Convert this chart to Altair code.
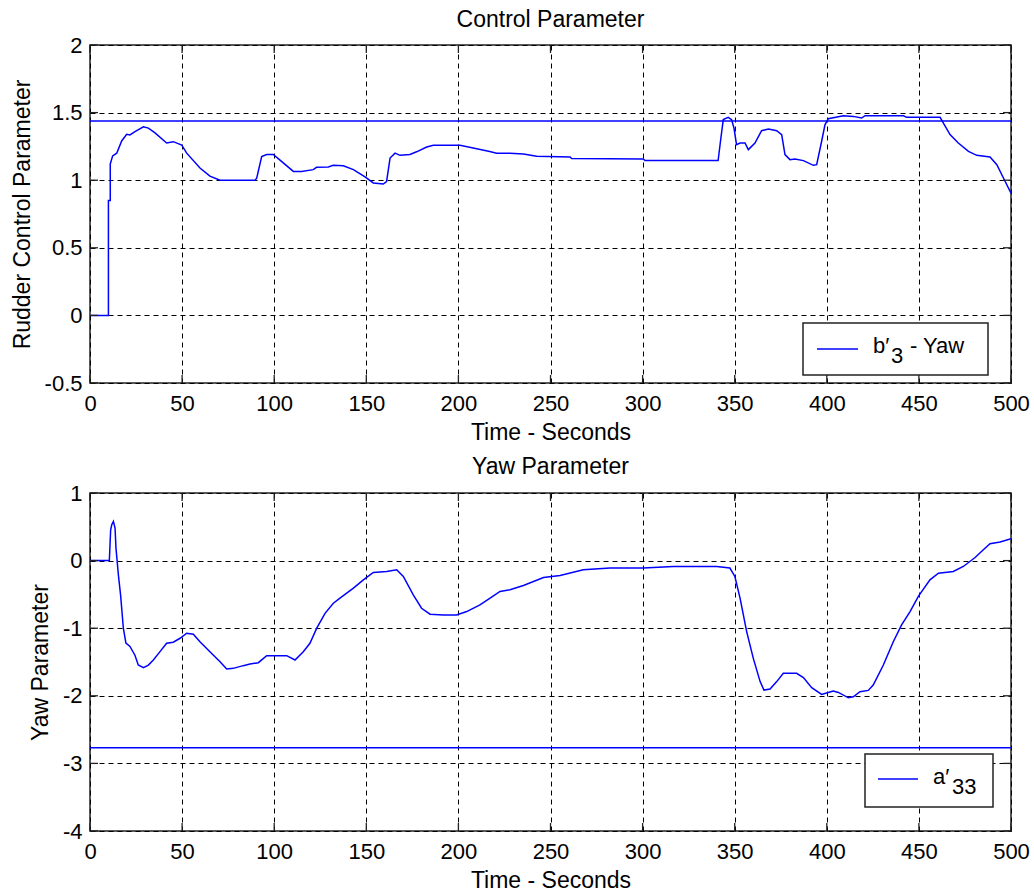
import altair as alt
import pandas as pd

# ---------------- data ----------------
t_b3 = [0, 10, 10, 11, 11, 12.3, 14.5, 17.2, 19.9, 21.7, 24.4, 29, 31.7, 35.3, 41.6, 45.2,
        49.8, 52.5, 59.7, 65.1, 70.6, 89.6, 90.5, 93.2, 95.9, 99.5, 103, 110.4, 114.9, 121.2,
        123, 129.4, 132, 137.5, 143, 149.3, 153.8, 159.2, 161, 162.9, 165.6, 168.3, 173.7,
        177.3, 182.8, 186.4, 200.9, 208, 217, 220.8, 228, 235.3, 242.5, 260.6, 261.5, 300.4,
        301.3, 341, 342.3, 343.8, 346.5, 348.3, 349.6, 351, 352.9, 355.6, 357.4, 361, 364.6,
        368.3, 372.8, 375.5, 377.3, 380, 382.7, 387.3, 392.7, 394.5, 397.2, 399, 400.8, 409,
        414.4, 418.9, 420.8, 441.6, 443.4, 461.5, 463.3, 466.9, 471.4, 476.9, 481.4, 488.6,
        492.3, 495.9, 500]
v_b3 = [0, 0, 0.85, 0.85, 1.12, 1.18, 1.20, 1.29, 1.34, 1.335, 1.36, 1.395, 1.385, 1.35, 1.275,
        1.285, 1.26, 1.20, 1.09, 1.03, 1.0, 1.0, 1.015, 1.175, 1.19, 1.19, 1.15, 1.065, 1.065,
        1.078, 1.095, 1.098, 1.11, 1.107, 1.078, 1.024, 0.98, 0.972, 0.99, 1.164, 1.20, 1.184,
        1.19, 1.21, 1.245, 1.258, 1.258, 1.238, 1.213, 1.199, 1.199, 1.194, 1.177, 1.172, 1.16,
        1.157, 1.145, 1.145, 1.29, 1.448, 1.465, 1.448, 1.386, 1.263, 1.275, 1.275, 1.226,
        1.275, 1.366, 1.379, 1.366, 1.337, 1.189, 1.152, 1.157, 1.145, 1.11, 1.115, 1.288,
        1.41, 1.455, 1.477, 1.472, 1.46, 1.477, 1.477, 1.465, 1.465, 1.423, 1.337, 1.275,
        1.213, 1.184, 1.172, 1.115, 1.016, 0.905]
b3_level = 1.438

t_a33 = [0, 10.5, 11.2, 11.8, 12.7, 13.6, 14.1, 15.4, 16.6, 18.1, 19.5, 21.7, 24.4, 26.2, 29,
         31.7, 34.4, 38, 41.6, 45.2, 48.9, 52.5, 56.1, 59.7, 65.1, 70.6, 74.2, 77.8, 83.2,
         86.9, 91.4, 95.9, 101.3, 106.8, 111.3, 115.8, 119.4, 123.1, 127.6, 132.1, 135.7, 143,
         148.4, 153.8, 161, 166.5, 170.1, 175.5, 180, 184.6, 191.8, 199, 204.5, 211.7, 217.2,
         222.6, 228, 235.3, 246.2, 255.2, 267.8, 282.3, 300.4, 316.7, 340.2, 347.4, 350.1,
         352.9, 356.5, 360.1, 363.8, 365.9, 369.2, 372.8, 376.4, 383.6, 387.3, 391.8, 397.2,
         400.8, 403.5, 406.3, 411.7, 414.4, 418, 422.5, 425.2, 430.7, 436.1, 440.6, 445.2,
         449.7, 456, 460.6, 468.7, 474.1, 480.5, 485, 488.6, 494.1, 500]
v_a33 = [0, 0, 0.45, 0.53, 0.58, 0.48, 0.185, -0.21, -0.507, -1.0, -1.22, -1.27, -1.40, -1.545,
         -1.584, -1.545, -1.47, -1.347, -1.223, -1.208, -1.149, -1.075, -1.09, -1.2, -1.347,
         -1.495, -1.604, -1.594, -1.554, -1.53, -1.51, -1.406, -1.406, -1.406, -1.47, -1.347,
         -1.223, -1.0, -0.78, -0.63, -0.556, -0.408, -0.285, -0.176, -0.161, -0.136, -0.235,
         -0.507, -0.705, -0.793, -0.803, -0.803, -0.754, -0.655, -0.556, -0.457, -0.43, -0.369,
         -0.25, -0.22, -0.136, -0.11, -0.11, -0.087, -0.087, -0.11, -0.235, -0.556, -1.05,
         -1.446, -1.79, -1.915, -1.9, -1.79, -1.668, -1.668, -1.73, -1.88, -1.98, -1.95, -1.93,
         -1.95, -2.03, -2.014, -1.94, -1.92, -1.84, -1.545, -1.2, -0.95, -0.754, -0.53, -0.285,
         -0.186, -0.161, -0.087, 0.046, 0.16, 0.249, 0.274, 0.323]
a33_level = -2.77

x_ticks = [0, 50, 100, 150, 200, 250, 300, 350, 400, 450, 500]
y_ticks_top = [-0.5, 0, 0.5, 1, 1.5, 2]
y_ticks_bot = [-4, -3, -2, -1, 0, 1]

# ---------------- styling ----------------
W, H = 921, 338
FONT = "Liberation Sans"
BLUE = "#0000ff"
TICK = 8


def panel(t, v, level, yticks, title, ytitle, legend_main, legend_sub, legend_rest, lg, title_y):
    df = pd.DataFrame({"t": t, "v": v, "i": list(range(len(t)))})
    xs = alt.Scale(domain=[x_ticks[0], x_ticks[-1]], nice=False, zero=False)
    ys = alt.Scale(domain=[yticks[0], yticks[-1]], nice=False, zero=False)
    xaxis = alt.Axis(values=x_ticks, title="Time - Seconds", labelExpr="toString(datum.value)",
                     labelPadding=10, titlePadding=7)
    yaxis = alt.Axis(values=yticks, title=ytitle, labelExpr="toString(datum.value)",
                     labelPadding=8, titlePadding=10)

    line = alt.Chart(df).mark_line(color=BLUE, strokeWidth=1.5, clip=True).encode(
        x=alt.X("t:Q", scale=xs, axis=xaxis),
        y=alt.Y("v:Q", scale=ys, axis=yaxis),
        order=alt.Order("i:Q"),
    )
    lvl = alt.Chart(pd.DataFrame({"lvl": [level]})).mark_rule(color=BLUE, strokeWidth=1.5).encode(
        y=alt.Y("lvl:Q", scale=ys, axis=yaxis)
    )
    ydf = pd.DataFrame({"yt": yticks})
    xdf = pd.DataFrame({"xt": x_ticks})
    tk = dict(color="#222222", strokeWidth=1.3)
    yl = alt.Chart(ydf).mark_rule(**tk).encode(y=alt.Y("yt:Q", scale=ys, axis=yaxis),
                                               x=alt.value(0), x2=alt.value(TICK))
    yr = alt.Chart(ydf).mark_rule(**tk).encode(y=alt.Y("yt:Q", scale=ys, axis=yaxis),
                                               x=alt.value(W - TICK), x2=alt.value(W))
    xb = alt.Chart(xdf).mark_rule(**tk).encode(x=alt.X("xt:Q", scale=xs, axis=xaxis),
                                               y=alt.value(H - TICK), y2=alt.value(H))
    xt = alt.Chart(xdf).mark_rule(**tk).encode(x=alt.X("xt:Q", scale=xs, axis=xaxis),
                                               y=alt.value(0), y2=alt.value(TICK))

    one = pd.DataFrame({"a": [0]})
    ttl = alt.Chart(one).mark_text(align="center", baseline="alphabetic", font=FONT,
                                   fontSize=23, color="black").encode(
        x=alt.value(W / 2), y=alt.value(title_y), text=alt.value(title))
    box = alt.Chart(one).mark_rect(fill="white", stroke="#222222", strokeWidth=1.5).encode(
        x=alt.value(lg["x0"]), x2=alt.value(lg["x1"]), y=alt.value(lg["y0"]), y2=alt.value(lg["y1"]))
    sym = alt.Chart(one).mark_rule(color=BLUE, strokeWidth=1.5).encode(
        x=alt.value(lg["lx0"]), x2=alt.value(lg["lx1"]), y=alt.value(lg["ly"]))
    txt = dict(align="left", baseline="alphabetic", font=FONT, fontSize=22, color="black")
    t1 = alt.Chart(one).mark_text(**txt).encode(
        x=alt.value(lg["tx"]), y=alt.value(lg["ty"]), text=alt.value(legend_main))
    t2 = alt.Chart(one).mark_text(**txt).encode(
        x=alt.value(lg["sx"]), y=alt.value(lg["sy"]), text=alt.value(legend_sub))
    layers = [line, lvl, yl, yr, xb, xt, ttl, box, sym, t1, t2]
    if legend_rest:
        t3 = alt.Chart(one).mark_text(**txt).encode(
            x=alt.value(lg["rx"]), y=alt.value(lg["ty"]), text=alt.value(legend_rest))
        layers.append(t3)
    return alt.layer(*layers).properties(width=W, height=H)


top = panel(t_b3, v_b3, b3_level, y_ticks_top, "Control Parameter", "Rudder Control Parameter",
            "b\u2032", "3", "- Yaw",
            dict(x0=713, x1=898, y0=278, y1=330, lx0=727, lx1=768, ly=304,
                 tx=783, ty=308, sx=801, sy=318, rx=820), -18)
bot = panel(t_a33, v_a33, a33_level, y_ticks_bot, "Yaw Parameter", "Yaw Parameter",
            "a\u2032", "33", "",
            dict(x0=775, x1=903, y0=261, y1=314, lx0=788, lx1=828, ly=286,
                 tx=843, ty=291, sx=862, sy=301), -19)

chart = alt.vconcat(top, bot, spacing=110, bounds="flush").properties(
    padding={"left": 10, "top": 8, "right": 0, "bottom": 0},
    background="white",
).configure_view(
    stroke="#222222", strokeWidth=1.5, fill="white"
).configure_axis(
    labelFont=FONT, labelFontSize=22, labelColor="black",
    titleFont=FONT, titleFontSize=23, titleFontWeight="normal", titleColor="black",
    tickSize=0, domain=False, grid=True, gridColor="black", gridOpacity=1,
    gridDash=[5, 4], gridWidth=1, labelFlush=False,
)

chart.save("out.html", embed_options={"renderer": "svg", "actions": False})
